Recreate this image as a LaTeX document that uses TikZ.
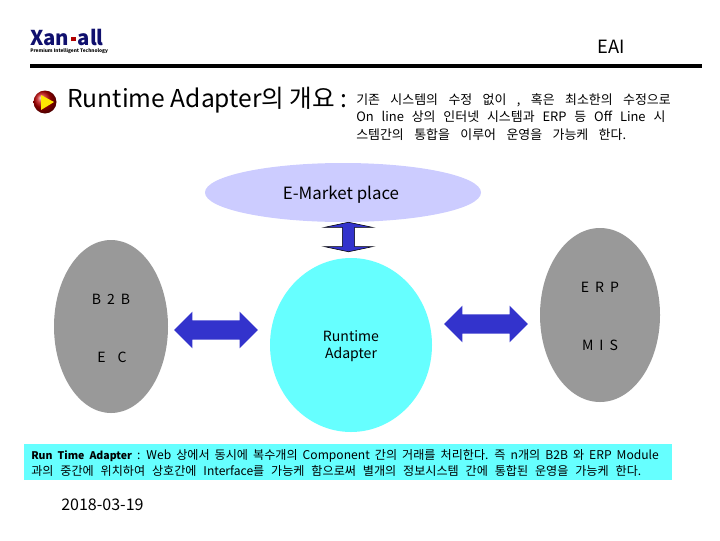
\documentclass[tikz,border=0pt]{standalone}
\usepackage{fontspec}
\setmainfont{Noto Sans CJK KR}
\usetikzlibrary{shapes.geometric,shapes.arrows,positioning}
\definecolor{linkblue}{HTML}{3333CC}
\definecolor{adaptercyan}{HTML}{66FFFF}
\definecolor{marketblue}{HTML}{CCCCFF}
\definecolor{systemgray}{HTML}{999999}
\definecolor{logoblue}{HTML}{10106E}
\tikzset{
  link/.style={double arrow, fill=linkblue, inner xsep=0pt, inner ysep=6.6pt, double arrow head extend=6.2pt, minimum height=59.5pt},
  stem/.style={double arrow, fill=linkblue, draw=black, line width=0.4pt, inner xsep=0pt, inner ysep=4.2pt, double arrow head extend=13pt, double arrow tip angle=156, minimum height=21pt},
  intro/.style={font=\fontsize{9.2pt}{12.4pt}\selectfont\spaceskip 7.4pt\relax, align=left, anchor=north west, inner sep=0pt},
  noteline/.style={font=\fontsize{8.6pt}{12pt}\selectfont, anchor=west, inner sep=0pt},
  label/.style={font=\fontsize{10pt}{12pt}\selectfont, inner sep=0pt},
  letters/.style={font=\fontsize{10pt}{12pt}\selectfont\spaceskip 4.3pt\relax, inner sep=0pt}
}

\begin{document}
\begin{tikzpicture}[x=0.025cm,y=-0.025cm]
  \useasboundingbox (0,0) rectangle (720,540);
  % header
  \node[inner sep=0pt, anchor=west, text=logoblue, font=\fontsize{14.5pt}{15pt}\selectfont\bfseries] (logo) at (30,37) {Xan\kern1.5pt{\color{red!70!black}\rule[2.5pt]{3pt}{3pt}}\kern1.5pt all};
  \node[inner sep=0pt, anchor=west, font=\fontsize{3.4pt}{4pt}\selectfont\bfseries] (motto) at (30,51) {Premium Intelligent Technology};
  \node[label, font=\fontsize{13pt}{15pt}\selectfont] (eai) at (611,47) {EAI};
  \draw[line width=3pt] (30,66)--(702,66);
  % title
  \shade[ball color=red!75!black] (45,102) circle (11.5);
  \fill[yellow!90!orange] (41,95)--(54,102)--(41,110)--cycle;
  \node[inner sep=0pt, anchor=west, font=\fontsize{17.5pt}{20pt}\selectfont] (title) at (67,100) {Runtime Adapter의 개요 :};
  \node[intro] (lead) at (356,93) {기존 시스템의 수정 없이 , 혹은 최소한의 수정으로\\{\spaceskip 5.6pt\relax On line 상의 인터넷 시스템과 ERP 등 Off Line 시}\\스템간의 통합을 이루어 운영을 가능케 한다.};
  % systems
  \fill[marketblue] (343,192.5) ellipse (138 and 29.5);
  \fill[systemgray] (111,326.5) ellipse (57 and 86.5);
  \fill[systemgray] (600,315) ellipse (60 and 87);
  \fill[adaptercyan] (351,345) ellipse (81 and 87);
  \node[label, font=\fontsize{12pt}{14pt}\selectfont] (market) at (341,195) {E-Market place};
  \node[letters] (btob) at (111,299) {B 2 B};
  \node[letters] (ec) at (112,357) {E\ \ C};
  \node[letters] (erp) at (600,287) {E R P};
  \node[letters] (mis) at (600,345) {M I S};
  \node[label, align=center] (adapter) at (351,346) {Runtime\\Adapter};
  % links
  \node[link] (leftlink) at (216,330) {};
  \node[link] (rightlink) at (486,324) {};
  \node[stem, rotate=90] (toplink) at (348.5,237) {};
  % note
  \fill[adaptercyan] (24,444) rectangle (672,480);
  \node[noteline] (noteA) at (31,456) {\spaceskip 3.6pt\relax{\fontsize{7.5pt}{12pt}\selectfont\bfseries Run Time Adapter} : Web 상에서 동시에 복수개의 Component 간의 거래를 처리한다. 즉 n개의 B2B 와 ERP Module};
  \node[noteline] (noteB) at (31,470.5) {\spaceskip 4.9pt\relax 과의 중간에 위치하여 상호간에 Interface를 가능케 함으로써 별개의 정보시스템 간에 통합된 운영을 가능케 한다.};
  \node[label, font=\fontsize{11.4pt}{14pt}\selectfont, anchor=west] (date) at (61,505) {2018-03-19};
\end{tikzpicture}
\end{document}
